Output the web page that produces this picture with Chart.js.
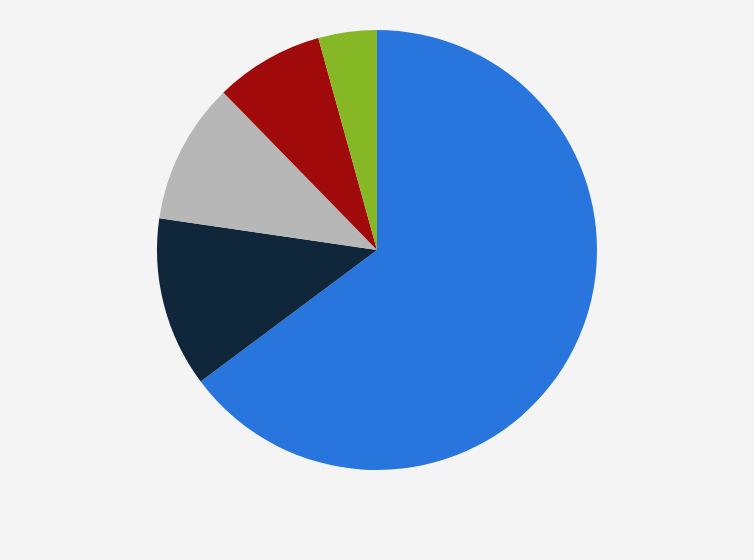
<!DOCTYPE html>
<html>
<head>
<meta charset="utf-8">
<script src="https://cdn.jsdelivr.net/npm/chart.js@4"></script>
<style>
  html, body { margin: 0; padding: 0; background: #f4f4f4; }
  #caja { width: 754px; height: 560px; position: relative; }
</style>
</head>
<body>
<div id="caja"><canvas id="grafico"></canvas></div>
<script>
// Datos del grafico
const categorias = ['Segmento 1', 'Segmento 2', 'Segmento 3', 'Segmento 4', 'Segmento 5'];
const valores = [64.8, 12.5, 10.4, 8.0, 4.3];
const colores = ['#2876dd', '#10263b', '#b7b7b7', '#a10a0a', '#86b825'];

const ctx = document.getElementById('grafico').getContext('2d');
new Chart(ctx, {
  type: 'pie',
  data: {
    labels: categorias,
    datasets: [{
      data: valores,
      backgroundColor: colores,
      borderWidth: 0
    }]
  },
  options: {
    responsive: true,
    maintainAspectRatio: false,
    animation: false,
    layout: { padding: { top: 30, bottom: 90, left: 0, right: 0 } },
    plugins: {
      legend: { display: false },
      tooltip: { enabled: false }
    }
  }
});
</script>
</body>
</html>
